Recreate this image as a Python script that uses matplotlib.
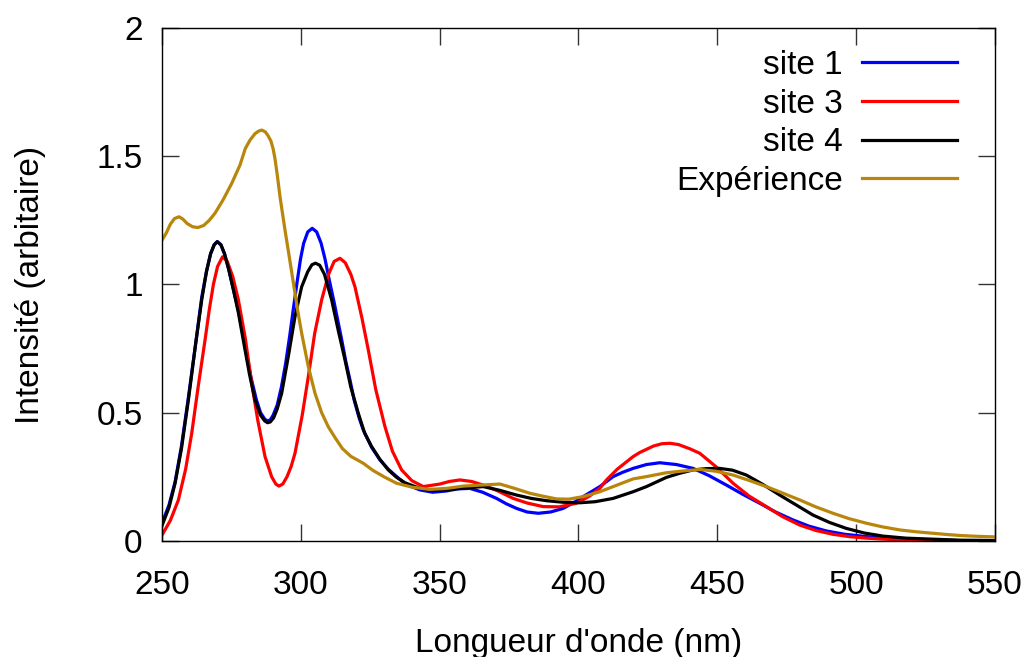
import numpy as np
import matplotlib.pyplot as plt

# spectres (longueur d'onde en nm, intensité arbitraire)
wl_site1 = [250, 252.5, 254.7, 257, 259.5, 262, 264.3, 266, 267.5, 268.8, 269.9, 271.2, 272.5,
            274, 275.5, 277.5, 279.9, 282, 284, 285.5, 287, 288, 289, 290, 291.5, 293, 294.5,
            296, 297.5, 298.8, 299.9, 301, 302.5, 304.1, 305.7, 307.3, 308.7, 310.2, 312,
            313.5, 314.8, 316.2, 317.7, 319.2, 321, 322.5, 325.5, 328.5, 331.5, 334.5, 338,
            342.9, 347.5, 352.5, 356.5, 360.9, 365.5, 370.5, 374, 377.7, 381.5, 385.5, 390,
            394.5, 398, 401.7, 407.7, 412.5, 416, 419.7, 424.5, 429.3, 435.3, 441.3, 447,
            453.3, 459, 465.3, 471, 477.3, 483, 489.3, 496, 503.8, 512, 520, 530, 540, 550]
i_site1 = [0.07, 0.14, 0.23, 0.37, 0.56, 0.76, 0.95, 1.05, 1.12, 1.155, 1.167, 1.155, 1.12,
           1.06, 0.99, 0.90, 0.76, 0.64, 0.55, 0.50, 0.475, 0.468, 0.472, 0.49, 0.53, 0.60,
           0.69, 0.80, 0.92, 1.02, 1.10, 1.16, 1.205, 1.219, 1.205, 1.161, 1.10, 1.02, 0.93,
           0.85, 0.78, 0.70, 0.628, 0.55, 0.48, 0.433, 0.365, 0.316, 0.28, 0.251, 0.22, 0.199,
           0.19, 0.195, 0.203, 0.205, 0.19, 0.166, 0.145, 0.127, 0.113, 0.108, 0.113, 0.127,
           0.148, 0.173, 0.212, 0.251, 0.268, 0.283, 0.298, 0.305, 0.298, 0.283, 0.255, 0.218,
           0.183, 0.147, 0.113, 0.082, 0.058, 0.039, 0.026, 0.017, 0.010, 0.006, 0.003, 0.001,
           0.0]

wl_site3 = [250, 253, 255.9, 258.5, 260.7, 263, 265.5, 267, 268.5, 270, 271.8, 273.5, 275.5,
            277.5, 280, 282.3, 284.5, 287.1, 289.5, 291, 292.1, 293.5, 295, 296.5, 297.9,
            300.5, 302.7, 305, 307.5, 310, 312, 314.1, 316, 318, 319.5, 322, 324.3, 327,
            330.3, 333, 336.3, 340, 344.1, 350.1, 353.5, 357.3, 361.5, 365.7, 371, 376.5,
            381.5, 387.3, 393, 399.3, 404, 407.7, 410.1, 414, 419.7, 422.1, 427, 430, 432.9,
            436, 440, 443.7, 449.5, 455.7, 461.5, 467.7, 473.5, 479.7, 485.5, 491.7, 497.5,
            503.8, 512, 520, 530, 540, 550]
i_site3 = [0.023, 0.08, 0.16, 0.28, 0.42, 0.60, 0.784, 0.90, 1.00, 1.07, 1.108, 1.09, 1.03,
           0.94, 0.79, 0.615, 0.47, 0.329, 0.25, 0.222, 0.214, 0.222, 0.25, 0.29, 0.342,
           0.49, 0.641, 0.81, 0.94, 1.04, 1.09, 1.102, 1.085, 1.04, 0.991, 0.87, 0.745, 0.59,
           0.446, 0.35, 0.277, 0.235, 0.212, 0.222, 0.232, 0.238, 0.232, 0.218, 0.195, 0.166,
           0.148, 0.134, 0.133, 0.147, 0.175, 0.205, 0.238, 0.28, 0.329, 0.345, 0.37, 0.379,
           0.381, 0.376, 0.36, 0.342, 0.29, 0.225, 0.175, 0.134, 0.095, 0.062, 0.041, 0.026,
           0.017, 0.011, 0.006, 0.003, 0.001, 0.0, 0.0]

wl_site4 = [250, 252.5, 254.7, 257, 259.5, 262, 264.3, 266, 267.5, 268.8, 269.9, 271.2, 272.5,
            274, 275.5, 277.5, 279.9, 281.5, 283.5, 285.5, 287, 288, 289, 290.2, 291.5,
            293.1, 295.5, 297.9, 300.3, 302.5, 304, 305.3, 306.8, 308.5, 311.1, 313.5, 315.9,
            318, 320.7, 323, 325.5, 328.5, 331.5, 334.5, 337.5, 342.9, 347.5, 352.5, 358,
            365.7, 371.5, 377.7, 383, 388.5, 394.5, 400.5, 406, 412.5, 419.7, 424.5, 431.7,
            436.5, 441.3, 446, 450.9, 455.5, 460.5, 466.5, 472.5, 478.5, 484.5, 490.5, 496.5,
            503, 509.7, 518, 527.7, 538, 550]
i_site4 = [0.06, 0.13, 0.225, 0.36, 0.55, 0.76, 0.94, 1.05, 1.12, 1.155, 1.167, 1.155, 1.12,
           1.06, 0.99, 0.89, 0.745, 0.65, 0.55, 0.49, 0.468, 0.461, 0.464, 0.48, 0.515,
           0.576, 0.72, 0.875, 0.991, 1.05, 1.077, 1.083, 1.075, 1.04, 0.94, 0.82, 0.706,
           0.60, 0.498, 0.42, 0.368, 0.318, 0.277, 0.248, 0.227, 0.205, 0.198, 0.199, 0.206,
           0.212, 0.198, 0.179, 0.166, 0.157, 0.151, 0.149, 0.153, 0.166, 0.192, 0.212, 0.248,
           0.264, 0.277, 0.282, 0.283, 0.276, 0.257, 0.22, 0.179, 0.14, 0.101, 0.072, 0.049,
           0.031, 0.019, 0.011, 0.007, 0.003, 0.002]

wl_exp = [250, 251.5, 253, 254.5, 256.1, 257.5, 259, 261, 262.9, 265, 267, 269.1, 272, 275.1,
          278.1, 280, 281.7, 283.5, 284.8, 285.9, 287.2, 288.2, 289.2, 290, 290.7, 291.6,
          292.5, 294.3, 296.1, 297.7, 299, 300.3, 302.7, 305.1, 307.5, 309.9, 312.5, 315,
          318, 322.5, 326, 330, 334.5, 340, 346.5, 352.5, 358.5, 365, 371.7, 377, 382.5,
          387, 392.1, 396.5, 401.7, 407.7, 412.5, 419.7, 424.5, 431.7, 437, 443.7, 449.5,
          455.7, 461.5, 467.7, 473.5, 479.7, 485.5, 491.7, 497.5, 503.8, 509.5, 515.8, 521.5,
          527.7, 533, 538, 544, 550]
i_exp = [1.173, 1.20, 1.235, 1.257, 1.264, 1.255, 1.238, 1.225, 1.222, 1.23, 1.25, 1.278, 1.33,
         1.394, 1.466, 1.53, 1.563, 1.588, 1.598, 1.602, 1.595, 1.58, 1.56, 1.53, 1.49, 1.42,
         1.342, 1.212, 1.09, 0.98, 0.89, 0.81, 0.68, 0.576, 0.50, 0.445, 0.40, 0.36, 0.33,
         0.303, 0.275, 0.25, 0.225, 0.21, 0.201, 0.205, 0.214, 0.218, 0.222, 0.205, 0.186,
         0.175, 0.164, 0.163, 0.173, 0.192, 0.212, 0.242, 0.251, 0.266, 0.272, 0.279, 0.272,
         0.257, 0.236, 0.212, 0.187, 0.160, 0.133, 0.108, 0.087, 0.069, 0.055, 0.043, 0.036,
         0.030, 0.025, 0.021, 0.018, 0.016]

plt.rcParams['font.family'] = ['Liberation Sans', 'DejaVu Sans']

fig = plt.figure(figsize=(10.32, 6.57), dpi=100)
ax = fig.add_axes([0.157, 0.1766, 0.807, 0.7808])

lw = 2.3
ax.plot(wl_site1, i_site1, color='#0000ff', lw=lw, label='site 1')
ax.plot(wl_site3, i_site3, color='#ff0000', lw=lw, label='site 3')
ax.plot(wl_site4, i_site4, color='#000000', lw=lw, label='site 4')
ax.plot(wl_exp, i_exp, color='#b8860b', lw=lw, label='Expérience')

ax.set_xlim(250, 550)
ax.set_ylim(0, 2)
ax.set_xticks([250, 300, 350, 400, 450, 500, 550])
ax.set_yticks([0, 0.5, 1, 1.5, 2])
ax.set_yticklabels(['0', '0.5', '1', '1.5', '2'])
ax.tick_params(direction='in', length=12, width=1, top=True, right=True,
               labelsize=24, color='#333333')
ax.tick_params(axis='x', pad=21)
ax.tick_params(axis='y', pad=14)
for s in ax.spines.values():
    s.set_linewidth(1)

ax.set_xlabel("Longueur d'onde (nm)", fontsize=24, labelpad=19)
ax.set_ylabel('Intensité (arbitaire)', fontsize=24, labelpad=36)

leg = ax.legend(loc='upper right', frameon=False, markerfirst=False, fontsize=24,
                handlelength=2.85, handletextpad=0.57, labelspacing=0.23,
                bbox_to_anchor=(0.9544, 0.957), borderaxespad=0, borderpad=0)
for t in leg.get_texts():
    t.set_ha('right')

fig.savefig('out.png', dpi=100)
